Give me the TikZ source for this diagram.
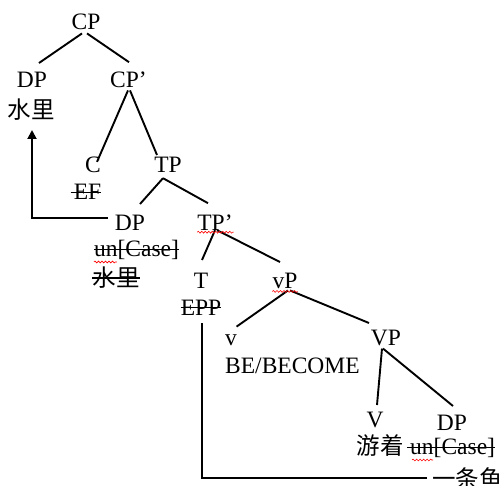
\documentclass[tikz,border=0pt]{standalone}
\usepackage{fontspec}
\setmainfont{Liberation Serif}
\newfontfamily\cjk{Noto Sans CJK SC}
\usetikzlibrary{arrows.meta,decorations.pathmorphing}
\begin{document}
\begin{tikzpicture}[x=1pt,y=-1pt,
  lab/.style={anchor=base, inner sep=0pt, font=\fontsize{23.5}{28}\selectfont},
  cjklab/.style={anchor=center, inner sep=0pt, font=\fontsize{23.5}{28}\selectfont\cjk},
  edge/.style={line width=1.9pt},
  strike/.style={line width=1.1pt},
  wave/.style={red, line width=0.6pt, decorate, decoration={snake, amplitude=0.9pt, segment length=3.5pt}}]
\useasboundingbox (0,0) rectangle (500,486);
\clip (0,0) rectangle (500,486);
% nodes
\node[lab] (CP) at (86,30) {CP};
\node[lab] (DPa) at (32,88) {DP};
\node[cjklab] (SLa) at (31,110) {水里};
\node[lab] (CPb) at (128.5,88) {CP’};
\node[lab] (C) at (93,173) {C};
\node[lab] (EF) at (87.5,200) {EF};
\node[lab] (TP) at (168,173) {TP};
\node[lab] (DPb) at (130,230) {DP};
\node[lab] (TPb) at (215,230) {TP’};
\node[lab] (U1) at (136.5,256) {un[Case]};
\node[cjklab] (SLb) at (116,278) {水里};
\node[lab] (T) at (201,288) {T};
\node[lab] (EPP) at (201,315) {EPP};
\node[lab] (vP) at (285,288) {vP};
\node[lab,anchor=base west] (v) at (225,345) {v};
\node[lab,anchor=base west] (BE) at (225,373) {BE/BECOME};
\node[lab] (VP) at (386,345) {VP};
\node[lab] (V) at (375,427) {V};
\node[lab] (DPc) at (452,430) {DP};
\node[cjklab] (YZ) at (380,446) {游着};
\node[lab,anchor=base west] (U3) at (410,454) {un[Case]};
\node[cjklab,anchor=west] (YTY) at (432,478) {一条鱼};
% tree edges
\draw[edge] ([shift={(-4,3)}]CP.south) -- ([shift={(7,-9.4)}]DPa.north);
\draw[edge] ([shift={(1,3)}]CP.south) -- ([shift={(0.5,-10)}]CPb.north);
\draw[edge] ([shift={(-0.5,2)}]CPb.south) -- ([shift={(4,4.6)}]C.north);
\draw[edge] ([shift={(1.5,2)}]CPb.south) -- ([shift={(-11,-2.4)}]TP.north);
\draw[edge] ([shift={(-5,5)}]TP.south) -- ([shift={(10,-10.4)}]DPb.north);
\draw[edge] ([shift={(-5,5)}]TP.south) -- ([shift={(-7,-11)}]TPb.north);
\draw[edge] ([shift={(0,0)}]TPb.south) -- ([shift={(1,-12.4)}]T.north);
\draw[edge] ([shift={(2,0)}]TPb.south) -- ([shift={(-5,-10.4)}]vP.north);
\draw[edge] ([shift={(3,2)}]vP.south) -- ([shift={(5.5,-7.4)}]v.north);
\draw[edge] ([shift={(5,2)}]vP.south) -- ([shift={(-17,-6.4)}]VP.north);
\draw[edge] ([shift={(-4,3)}]VP.south) -- ([shift={(2,-6.4)}]V.north);
\draw[edge] ([shift={(-3,3)}]VP.south) -- ([shift={(1,-8.4)}]DPc.north);
% movement lines
\draw[edge,-{Triangle[length=9pt,width=9pt]}] ([shift={(-7,-4)}]DPb.west) -| ([shift={(1,9)}]SLa.south);
\draw[edge] ([xshift=-5pt]YTY.west) -| ([shift={(1,8)}]EPP.south);
% strikethroughs
\draw[strike] ([xshift=-3pt]EF.west) -- (EF.east);
\draw[strike] (EPP.west) -- (EPP.east);
\draw[strike] (U1.west) -- (U1.east);
\draw[strike] (SLb.west) -- (SLb.east);
\draw[strike] ([xshift=-3pt]U3.west) -- (U3.east);
% spell-check squiggles
\draw[wave] ([shift={(0,2)}]TPb.south west) -- ([shift={(1,2)}]TPb.south east);
\draw[wave] ([shift={(0,3)}]vP.south west) -- ([shift={(0,3)}]vP.south east);
\draw[wave] ([shift={(0,6)}]U1.base west) -- ++(23,0);
\draw[wave] ([shift={(2,6)}]U3.base west) -- ++(21,0);
\end{tikzpicture}
\end{document}
